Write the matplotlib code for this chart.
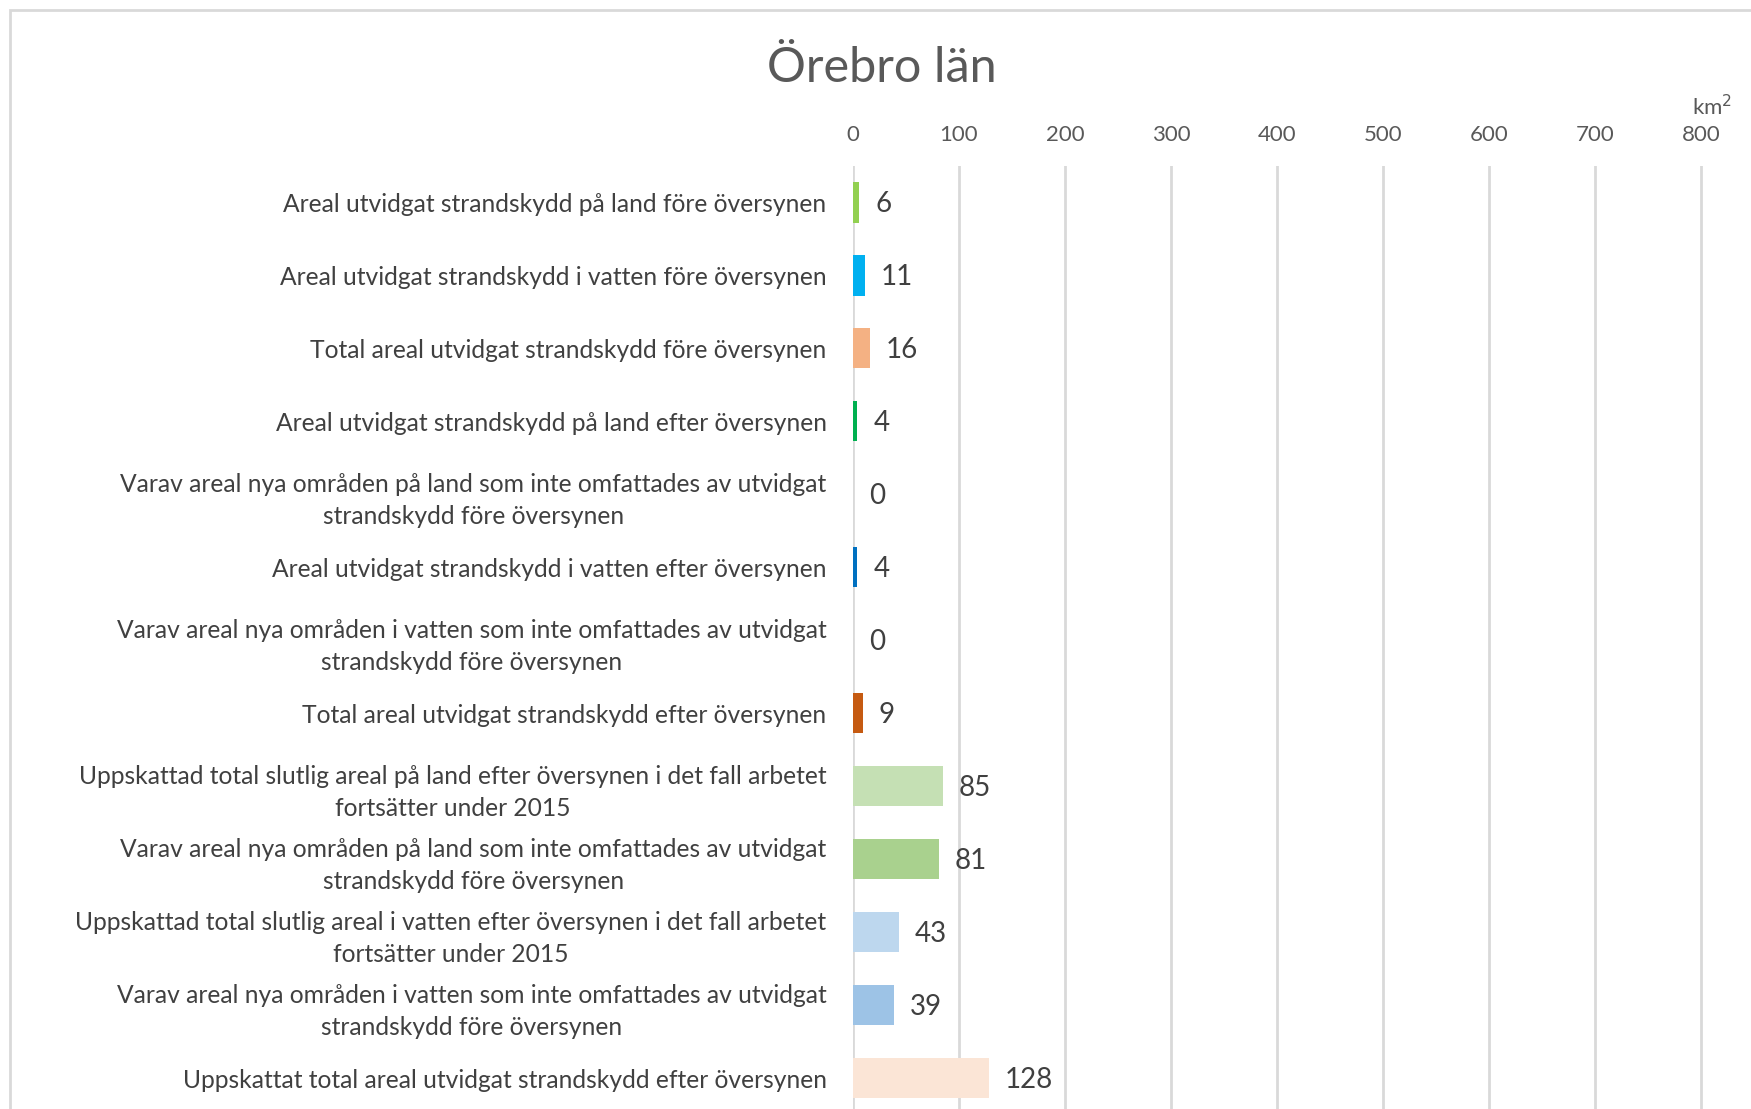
import matplotlib.pyplot as plt
from matplotlib.patches import Rectangle

# Data
categories = [
    "Areal utvidgat strandskydd på land före översynen",
    "Areal utvidgat strandskydd i vatten före översynen",
    "Total areal utvidgat strandskydd före översynen",
    "Areal utvidgat strandskydd på land efter översynen",
    "Varav areal nya områden på land som inte omfattades av utvidgat\nstrandskydd före översynen",
    "Areal utvidgat strandskydd i vatten efter översynen",
    "Varav areal nya områden i vatten som inte omfattades av utvidgat\nstrandskydd före översynen",
    "Total areal utvidgat strandskydd efter översynen",
    "Uppskattad total slutlig areal på land efter översynen i det fall arbetet\nfortsätter under 2015",
    "Varav areal nya områden på land som inte omfattades av utvidgat\nstrandskydd före översynen",
    "Uppskattad total slutlig areal i vatten efter översynen i det fall arbetet\nfortsätter under 2015",
    "Varav areal nya områden i vatten som inte omfattades av utvidgat\nstrandskydd före översynen",
    "Uppskattat total areal utvidgat strandskydd efter översynen",
]
values = [6, 11, 16, 4, 0, 4, 0, 9, 85, 81, 43, 39, 128]
colors = ["#92D050", "#00B0F0", "#F4B183", "#00B050", "#A9D18E", "#0070C0",
          "#9DC3E6", "#C55A11", "#C5E0B4", "#A9D18E", "#BDD7EE", "#9DC3E6", "#FBE5D6"]
ticks = [0, 100, 200, 300, 400, 500, 600, 700, 800]

plt.rcParams['font.family'] = ['Lato', 'DejaVu Sans']

W, H = 1751, 1109
fig = plt.figure(figsize=(W / 100, H / 100), dpi=100)

# ram runt diagrammet (beskuren till höger / nere)
fig.patches.append(Rectangle((10 / W, -0.1), 1.2, 1 - 10 / H + 0.1, transform=fig.transFigure,
                             fill=False, edgecolor="#D9D9D9", linewidth=2))

# axlarnas läge i pixlar
left, right, top, bottom = 853, 1754, 166, 1114.5
ax = fig.add_axes([left / W, 1 - bottom / H, (right - left) / W, (bottom - top) / H])

y = list(range(len(categories)))
ax.barh(y, values, height=0.55, color=colors, zorder=3)
ax.set_ylim(len(categories) - 0.5, -0.5)
ax.set_xlim(0, 850)

for yi, v in zip(y, values):
    ax.annotate(str(v), (v, yi), xytext=(16, -2), textcoords="offset pixels",
                ha="left", va="center", fontsize=20, color="#404040")

ax.set_yticks(y)
ax.set_yticklabels(categories, fontsize=17.7, color="#404040",
                   multialignment="center", linespacing=1.45)
ax.tick_params(axis="y", length=0, pad=19)

ax.xaxis.tick_top()
ax.set_xticks(ticks)
ax.set_xticklabels([str(t) for t in ticks], fontsize=16, color="#595959")
ax.tick_params(axis="x", length=0, pad=15)
ax.grid(axis="x", color="#D9D9D9", linewidth=2, zorder=0)
for s in ax.spines.values():
    s.set_visible(False)

fig.text(1712 / W, 1 - 107 / H, "km$^2$", ha="center", va="center", fontsize=16, color="#595959")
fig.text(882 / W, 1 - 68 / H, "Örebro län", ha="center", va="center", fontsize=35, color="#595959")

fig.savefig("out.png", dpi=100)
